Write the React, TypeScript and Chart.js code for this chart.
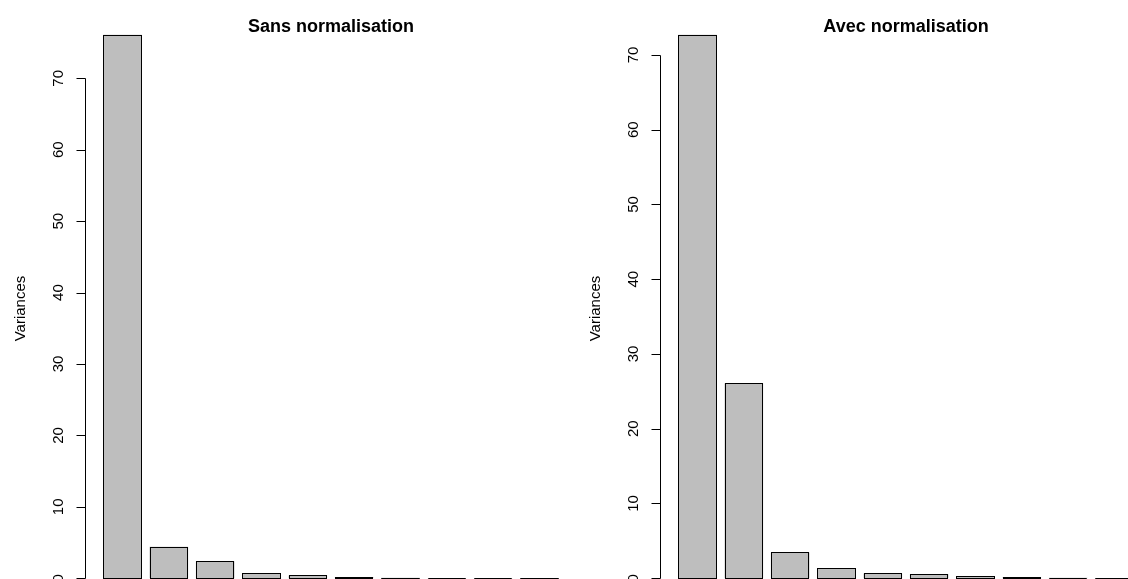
import React, { useEffect, useRef } from "react";
import { Chart, registerables } from "chart.js";

Chart.register(...registerables);

// ---- data ----
const components = ["PC1", "PC2", "PC3", "PC4", "PC5", "PC6", "PC7", "PC8", "PC9", "PC10"];
const sansNormValues = [76.1, 4.4, 2.37, 0.69, 0.4, 0.18, 0.08, 0.05, 0.03, 0.02];
const avecNormValues = [72.7, 26.1, 3.45, 1.35, 0.64, 0.53, 0.3, 0.13, 0.08, 0.04];
const yTickValues = [0, 10, 20, 30, 40, 50, 60, 70];
const panelTitles = ["Sans normalisation", "Avec normalisation"];
const yAxisLabel = "Variances";

// R barplot layout parameters (space between bars, bar width)
const BAR_SPACE = 0.2;
const BAR_WIDTH = 1;

const FONT = '"Liberation Sans", Arial, Helvetica, sans-serif';

// R-style rectangle outlines: stroked on the bar element edges, so even
// near-zero bars show as a thin line as in R's barplot.
const barOutlinePlugin = {
  id: "barOutline",
  afterDatasetsDraw(chart: any) {
    const { ctx } = chart;
    const meta = chart.getDatasetMeta(0);
    ctx.save();
    ctx.strokeStyle = "#000";
    ctx.lineWidth = 1;
    meta.data.forEach((el: any) => {
      const { x, y, base, width } = el.getProps(["x", "y", "base", "width"], true);
      const l = Math.round(x - width / 2) + 0.5;
      const r = Math.round(x + width / 2) - 0.5;
      const t = Math.round(Math.min(y, base)) + 0.5;
      const b = Math.round(Math.max(y, base)) + 0.5;
      ctx.strokeRect(l, t, r - l, b - t);
    });
    ctx.restore();
  },
};

function makeRAxisPlugin(title: string) {
  return {
    id: "rAxis",
    afterDraw(chart: any) {
      const { ctx, chartArea } = chart;
      const y = chart.scales.y;
      const x0 = Math.floor(chartArea.left) + 0.5;
      ctx.save();
      ctx.strokeStyle = "#000";
      ctx.fillStyle = "#000";
      ctx.lineWidth = 1;
      const pBot = Math.round(y.getPixelForValue(yTickValues[0])) + 0.5;
      const pTop = Math.round(y.getPixelForValue(yTickValues[yTickValues.length - 1])) + 0.5;
      ctx.beginPath();
      ctx.moveTo(x0, pBot);
      ctx.lineTo(x0, pTop);
      yTickValues.forEach((v) => {
        const p = Math.round(y.getPixelForValue(v)) + 0.5;
        ctx.moveTo(x0 - 9, p);
        ctx.lineTo(x0, p);
      });
      ctx.stroke();

      ctx.font = `15px ${FONT}`;
      ctx.textAlign = "center";
      ctx.textBaseline = "alphabetic";
      yTickValues.forEach((v) => {
        ctx.save();
        ctx.translate(chartArea.left - 22, y.getPixelForValue(v));
        ctx.rotate(-Math.PI / 2);
        ctx.fillText(String(v), 0, 0);
        ctx.restore();
      });

      ctx.save();
      ctx.translate(chartArea.left - 60, (chartArea.top + chartArea.bottom) / 2 + 2);
      ctx.rotate(-Math.PI / 2);
      ctx.fillText(yAxisLabel, 0, 0);
      ctx.restore();

      ctx.font = `bold 18px ${FONT}`;
      ctx.fillText(title, (chartArea.left + chartArea.right) / 2, 32);
      ctx.restore();
    },
  };
}

function Panel({ title, values, left }: { title: string; values: number[]; left: number }) {
  const ref = useRef<HTMLCanvasElement | null>(null);
  useEffect(() => {
    if (!ref.current) return;
    const n = values.length;
    const step = BAR_SPACE + BAR_WIDTH;
    const centers = values.map((_, i) => BAR_SPACE + BAR_WIDTH / 2 + i * step);
    const xl = BAR_SPACE;
    const xr = n * step;
    const xpad = 0.04 * (xr - xl);
    const ymax = Math.max(...values);
    const chart = new Chart(ref.current, {
      type: "bar",
      data: {
        labels: components,
        datasets: [
          {
            data: values.map((v, i) => ({ x: centers[i], y: v })),
            backgroundColor: "#bebebe",
            borderWidth: 0,
            inflateAmount: 0,
            barPercentage: 1,
            categoryPercentage: BAR_WIDTH / step,
          } as any,
        ],
      },
      options: {
        animation: false,
        responsive: false,
        devicePixelRatio: 1,
        layout: { padding: { left: 85, top: 13, right: 0, bottom: 0 } },
        plugins: {
          legend: { display: false },
          tooltip: { enabled: false },
          title: { display: false },
        },
        scales: {
          x: {
            type: "linear",
            display: false,
            offset: false,
            min: xl - xpad,
            max: xr + xpad,
            afterBuildTicks: (s: any) => {
              s.ticks = centers.map((v) => ({ value: v }));
            },
          },
          y: {
            display: false,
            min: -0.04 * ymax,
            max: 1.04 * ymax,
          },
        },
      } as any,
      plugins: [barOutlinePlugin, makeRAxisPlugin(title)],
    });
    return () => chart.destroy();
  }, [title, values]);
  return (
    <canvas
      ref={ref}
      width={577}
      height={600}
      style={{ position: "absolute", left, top: 0, width: 577, height: 600 }}
    />
  );
}

export default function App() {
  return (
    <div
      style={{
        position: "absolute",
        left: 0,
        top: 0,
        width: 1128,
        height: 579,
        overflow: "hidden",
        background: "#fff",
      }}
    >
      <Panel title={panelTitles[0]} values={sansNormValues} left={0} />
      <Panel title={panelTitles[1]} values={avecNormValues} left={575} />
    </div>
  );
}
